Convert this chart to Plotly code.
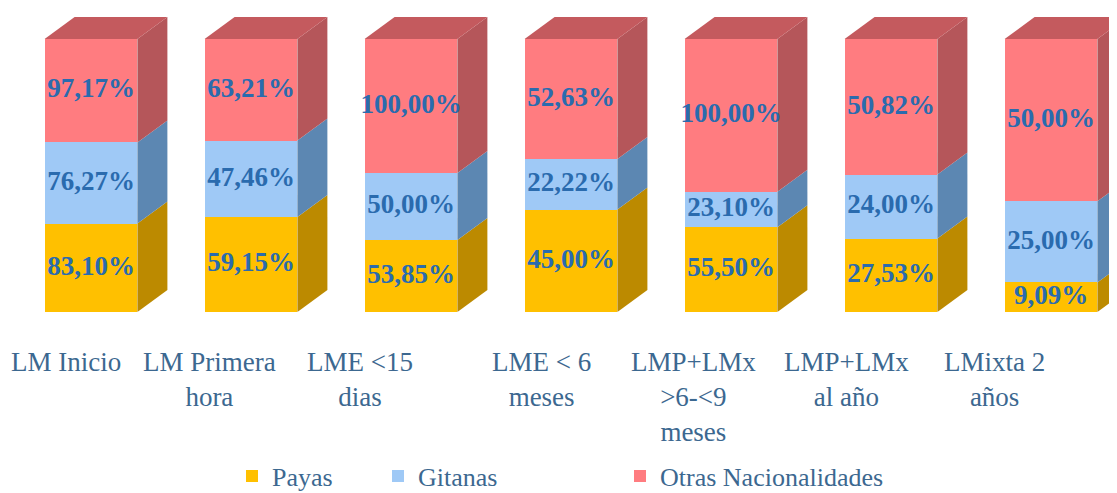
import plotly.graph_objects as go

# ---- data ----
categories = ["LM Inicio", "LM Primera<br>hora", "LME <15<br>dias", "LME < 6<br>meses",
              "LMP+LMx<br>>6-<9<br>meses", "LMP+LMx<br>al año", "LMixta 2<br>años"]
payas = [83.10, 59.15, 53.85, 45.00, 55.50, 27.53, 9.09]
gitanas = [76.27, 47.46, 50.00, 22.22, 23.10, 24.00, 25.00]
otras = [97.17, 63.21, 100.00, 52.63, 100.00, 50.82, 50.00]
series_names = ["Payas", "Gitanas", "Otras Nacionalidades"]

# ---- style ----
front_colors = ["#FFC000", "#9FC9F6", "#FF7C80"]
side_colors = ["#BC8A00", "#5C87B2", "#B5565A"]
top_color = "#C45A5E"
label_color = "#2A6BAE"
axis_text_color = "#3C6890"
FONT = "Liberation Serif"
label_xshift = [-25, -42, -51, -30, -38, -45, -57]   # category label placement (px)

W, H = 1109, 485   # page body has an 8px margin

series = [payas, gitanas, otras]
n = len(categories)
xs = list(range(n))
bar_w = 0.58
hw = bar_w / 2
dx = 0.1875   # depth offset in x units
dy = 8.06     # depth offset in y units (percent)

fig = go.Figure()
legend_ids = ["legend", "legend2", "legend3"]
for s, name, col, lg in zip(series, series_names, front_colors, legend_ids):
    fig.add_trace(go.Bar(x=xs, y=s, name=name, marker=dict(color=col, line=dict(width=0)),
                         width=bar_w, legend=lg, hoverinfo="skip"))

# normalized stacked positions (100% stacked)
shapes = []
lx, ly, lt = [], [], []
for i in xs:
    tot = sum(s[i] for s in series)
    base = 0.0
    for k, s in enumerate(series):
        h = s[i] / tot * 100
        y0, y1 = base, base + h
        x1 = i + hw
        path = (f"M {x1},{y0} L {x1+dx},{y0+dy} L {x1+dx},{y1+dy} L {x1},{y1} Z")
        shapes.append(dict(type="path", path=path, xref="x", yref="y",
                           fillcolor=side_colors[k], line=dict(width=0), layer="below"))
        lx.append(i)
        ly.append((y0 + y1) / 2)
        lt.append(f"{s[i]:.2f}%".replace(".", ","))
        base = y1
    x0 = i - hw
    x1 = i + hw
    path = (f"M {x0},{base} L {x1},{base} L {x1+dx},{base+dy} L {x0+dx},{base+dy} Z")
    shapes.append(dict(type="path", path=path, xref="x", yref="y",
                       fillcolor=top_color, line=dict(width=0), layer="below"))

fig.add_trace(go.Scatter(x=lx, y=ly, text=lt, mode="text", showlegend=False,
                         textfont=dict(family=FONT, size=27, color=label_color, weight="bold"),
                         cliponaxis=False, hoverinfo="skip"))

annotations = []
for i, (cat, sh) in enumerate(zip(categories, label_xshift)):
    annotations.append(dict(x=i, y=0, xref="x", yref="paper", text=cat, showarrow=False,
                            xanchor="center", yanchor="top", align="center",
                            xshift=sh, yshift=-34, borderpad=0,
                            font=dict(family=FONT, size=27, color=axis_text_color)))

leg_common = dict(orientation="h", y=-0.5395, yanchor="middle", xanchor="left",
                  font=dict(family=FONT, size=26, color=axis_text_color),
                  bgcolor="rgba(0,0,0,0)")

fig.update_layout(
    width=W, height=H,
    barmode="stack", barnorm="percent",
    paper_bgcolor="white", plot_bgcolor="white",
    margin=dict(l=0, r=0, t=0, b=181, autoexpand=False),
    shapes=shapes,
    annotations=annotations,
    font=dict(family=FONT, color=axis_text_color, size=26),
    xaxis=dict(range=[-0.51875, 6.4125], showticklabels=False, automargin=False,
               showgrid=False, zeroline=False, showline=False, ticks=""),
    yaxis=dict(range=[0, 111.36], visible=False, showgrid=False, zeroline=False,
               automargin=False),
    legend=dict(x=224/W, **leg_common),
    legend2=dict(x=370/W, **leg_common),
    legend3=dict(x=612/W, **leg_common),
)

fig.write_html("out.html")
